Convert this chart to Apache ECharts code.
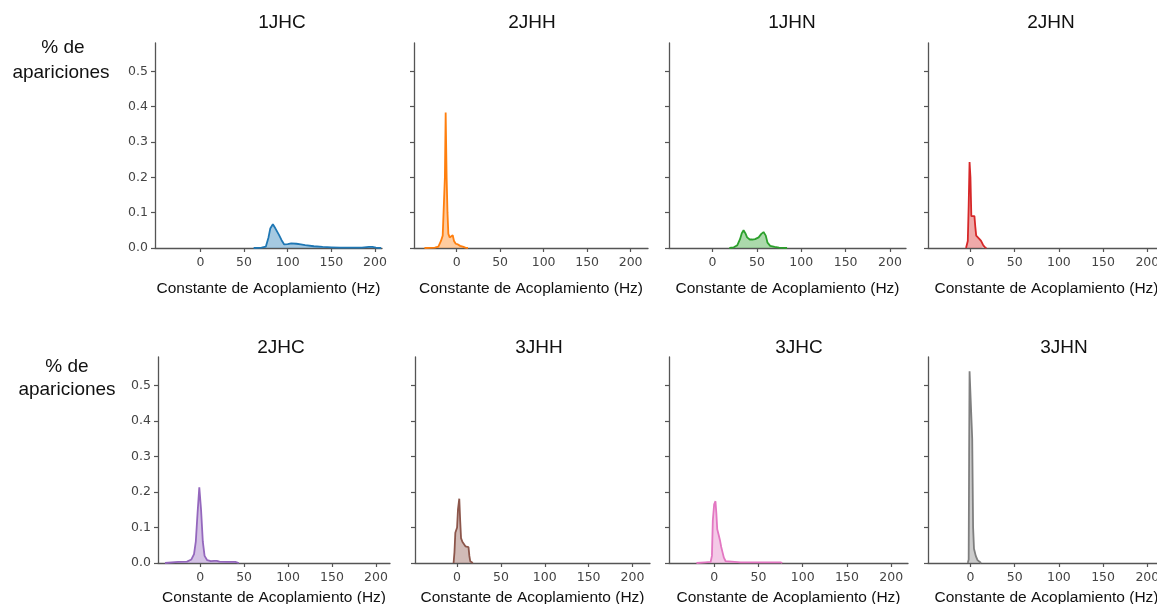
<!DOCTYPE html>
<html><head><meta charset="utf-8">
<script src="https://cdn.jsdelivr.net/npm/echarts@6/dist/echarts.min.js"></script>
<style>html,body{margin:0;padding:0;background:#fff}#c{width:1157px;height:604px}</style>
</head><body><div id="c"></div>
<script>
// ---- data ----
const panelNames = ['1JHC','2JHH','1JHN','2JHN','2JHC','3JHH','3JHC','3JHN'];
const panelColors = ['#1f77b4','#ff7f0e','#2ca02c','#d62728','#9467bd','#8c564b','#e377c2','#7f7f7f'];
const xTicks = [0,50,100,150,200];
const yTicks = [0,0.1,0.2,0.3,0.4,0.5];
const yMax = 0.58;
const xLimits = [[-52,208],[-49,220],[-49,218],[-48,220],[-48,216],[-48,220],[-51,219],[-48,220]];
const xAxisName = 'Constante de Acoplamiento (Hz)';
const yAxisName = ['% de','apariciones'];

const d1JHC = [[61,0],[70,0.001],[75,0.004],[78,0.03],[80,0.055],[83,0.067],[86,0.055],[90,0.037],[93,0.022],[96,0.01],[100,0.011],[104,0.013],[110,0.012],[115,0.010],[120,0.008],[130,0.005],[140,0.003],[150,0.002],[160,0.001],[175,0.001],[185,0.001],[193,0.003],[197,0.003],[201,0.001],[207,0]];
const d2JHH = [[-37,0],[-25,0.001],[-21,0.004],[-18,0.02],[-16,0.035],[-14.5,0.04],[-13.5,0.2],[-12.6,0.383],[-11.5,0.2],[-10.5,0.1],[-9.5,0.04],[-8,0.03],[-6,0.035],[-4.5,0.036],[-3,0.02],[-1,0.012],[1.5,0.01],[4,0.006],[7,0.004],[10,0.001],[13,0]];
const d1JHN = [[19,0],[24,0.002],[28,0.008],[31,0.025],[33,0.042],[35,0.05],[37,0.042],[39,0.03],[42,0.024],[45,0.024],[48,0.025],[52,0.03],[55,0.04],[57.5,0.045],[60,0.035],[62,0.015],[65,0.006],[70,0.003],[75,0.001],[84,0]];
const d2JHN = [[-5,0],[-3,0.02],[-2,0.12],[-1,0.243],[0,0.2],[1,0.09],[2,0.085],[3,0.085],[4.5,0.09],[5.5,0.06],[6.5,0.035],[8,0.03],[10,0.026],[12,0.02],[14,0.01],[16,0.003],[18,0]];
const d2JHC = [[-40,0],[-38,0.003],[-25,0.003],[-15,0.004],[-10,0.01],[-7,0.025],[-5,0.06],[-3,0.14],[-1,0.213],[1,0.15],[3,0.06],[5,0.02],[8,0.008],[12,0.005],[16,0.006],[19,0.006],[22,0.004],[30,0.003],[40,0.003],[44,0]];
const d3JHH = [[-4,0],[-3,0.03],[-2,0.085],[-1,0.09],[0,0.1],[1,0.15],[2.5,0.181],[3.5,0.12],[4.5,0.07],[6,0.06],[8,0.055],[9.5,0.047],[11,0.045],[13,0.045],[14,0.02],[15,0.005],[18,0]];
const d3JHC = [[-20,0],[-19,0.002],[-10,0.002],[-4,0.003],[-2.5,0.02],[-1.5,0.12],[0,0.165],[1.5,0.174],[2.5,0.14],[3.5,0.095],[5,0.08],[6.5,0.065],[8,0.045],[9.5,0.03],[11,0.015],[13,0.005],[15,0.003],[30,0.002],[50,0.002],[75,0.002],[77,0]];
const d3JHN = [[-3,0],[-2,0.01],[-1.5,0.3],[-1,0.54],[0,0.545],[1,0.54],[2,0.35],[3,0.1],[4,0.04],[6,0.02],[8,0.008],[10,0.003],[12,0]];
const panelData = [d1JHC,d2JHH,d1JHN,d2JHN,d2JHC,d3JHH,d3JHC,d3JHN];

// ---- layout ----
const gridBoxes = [
  {left:155,top:43,width:227,height:205},
  {left:414,top:43,width:234,height:205},
  {left:669,top:43,width:237,height:205},
  {left:928,top:43,width:237,height:205},
  {left:158,top:357,width:232,height:206},
  {left:415,top:357,width:235,height:206},
  {left:669,top:357,width:239,height:206},
  {left:928,top:357,width:237,height:206}
];
const titlePos = [[282,23],[532,23],[792,23],[1051,23],[281,348],[539,348],[799,348],[1064,348]];
const nameGaps = [33,33,33,33,27,27,27,27];
const axisColor = '#555';
const FONT = '"Liberation Sans", Arial, sans-serif';
const TICKFONT = '"DejaVu Sans", sans-serif';

const grid=[], xAxis=[], yAxis=[], series=[], graphic=[];
panelNames.forEach((name,i)=>{
  const g = gridBoxes[i];
  grid.push({left:g.left,top:g.top,width:g.width,height:g.height,containLabel:false,outerBoundsMode:'none'});
  xAxis.push({type:'value',gridIndex:i,min:xLimits[i][0],max:xLimits[i][1],
    name:xAxisName,nameLocation:'middle',nameGap:nameGaps[i],
    nameTextStyle:{fontFamily:FONT,fontSize:15.5,color:'#111'},
    axisLine:{show:true,onZero:false,lineStyle:{color:axisColor,width:1.3}},
    axisTick:{show:true,length:4,customValues:xTicks,lineStyle:{color:axisColor,width:1.2}},
    axisLabel:{show:true,customValues:xTicks,margin:8,fontFamily:TICKFONT,fontSize:12.5,color:'#444'},
    splitLine:{show:false}});
  yAxis.push({type:'value',gridIndex:i,min:0,max:yMax,
    axisLine:{show:true,onZero:false,lineStyle:{color:axisColor,width:1.3}},
    axisTick:{show:true,length:4,customValues:yTicks,lineStyle:{color:axisColor,width:1.2}},
    axisLabel:{show:(i%4===0),customValues:yTicks,margin:7,fontFamily:TICKFONT,fontSize:12.5,color:'#444',
      formatter:v=>v.toFixed(1)},
    splitLine:{show:false}});
  series.push({type:'line',xAxisIndex:i,yAxisIndex:i,data:panelData[i],showSymbol:false,symbol:'none',
    lineStyle:{color:panelColors[i],width:1.8},itemStyle:{color:panelColors[i]},
    areaStyle:{color:panelColors[i],opacity:0.4},z:3});
  graphic.push({type:'text',x:titlePos[i][0],y:titlePos[i][1],
    style:{text:name,fill:'#111',font:'19px '+FONT,textAlign:'center',textVerticalAlign:'middle'}});
});
const yNamePos = [[[63,48],[61,73]],[[67,367],[67,390]]];
yNamePos.forEach(row=>{
  row.forEach((p,k)=>{
    graphic.push({type:'text',x:p[0],y:p[1],style:{text:yAxisName[k],fill:'#111',font:'19px '+FONT,textAlign:'center',textVerticalAlign:'middle'}});
  });
});

const chart = echarts.init(document.getElementById('c'),null,{renderer:'canvas'});
chart.setOption({animation:false,backgroundColor:'#fff',grid,xAxis,yAxis,series,graphic});
</script>
</body></html>
